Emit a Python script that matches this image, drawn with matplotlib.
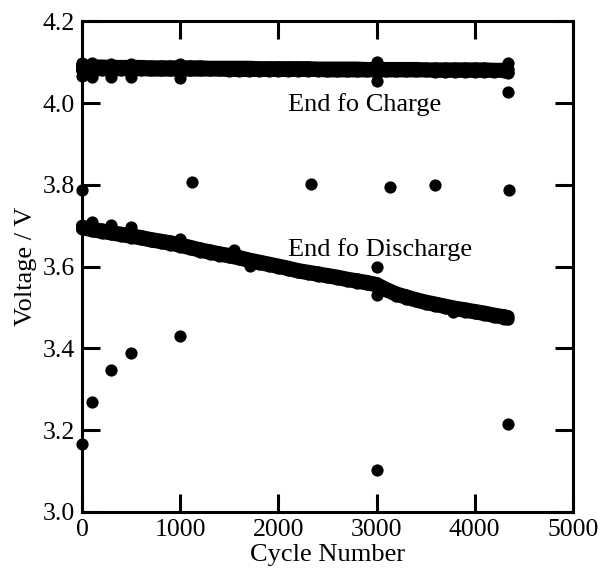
import matplotlib
matplotlib.use("Agg")
import matplotlib.pyplot as plt

# --- dense bands (cycles every 100, plus last cycle) ---
band_cycles = [0, 100, 200, 300, 400, 500, 600, 700, 800, 900,
               1000, 1100, 1200, 1300, 1400, 1500, 1600, 1700, 1800, 1900,
               2000, 2100, 2200, 2300, 2400, 2500, 2600, 2700, 2800, 2900,
               3000, 3100, 3200, 3300, 3400, 3500, 3600, 3700, 3800, 3900,
               4000, 4100, 4200, 4300, 4340]

charge_hi = [4.092, 4.092, 4.092, 4.091, 4.091, 4.091, 4.091, 4.090, 4.090, 4.090,
             4.090, 4.090, 4.090, 4.089, 4.089, 4.089, 4.089, 4.089, 4.088, 4.088,
             4.088, 4.088, 4.088, 4.088, 4.087, 4.087, 4.087, 4.087, 4.087, 4.086,
             4.086, 4.086, 4.086, 4.086, 4.086, 4.085, 4.085, 4.085, 4.085, 4.085,
             4.085, 4.085, 4.084, 4.084, 4.084]
charge_lo = [4.081, 4.081, 4.081, 4.081, 4.081, 4.081, 4.081, 4.080, 4.080, 4.080,
             4.080, 4.080, 4.080, 4.080, 4.080, 4.079, 4.079, 4.079, 4.079, 4.079,
             4.079, 4.079, 4.079, 4.079, 4.079, 4.078, 4.078, 4.078, 4.078, 4.078,
             4.078, 4.078, 4.078, 4.078, 4.078, 4.078, 4.077, 4.077, 4.077, 4.077,
             4.077, 4.077, 4.077, 4.077, 4.077]

discharge_hi = [3.700, 3.695, 3.691, 3.687, 3.683, 3.679, 3.675, 3.670, 3.666, 3.662,
                3.657, 3.651, 3.645, 3.640, 3.635, 3.631, 3.626, 3.620, 3.615, 3.610,
                3.605, 3.600, 3.594, 3.590, 3.586, 3.582, 3.578, 3.573, 3.569, 3.565,
                3.560, 3.548, 3.537, 3.530, 3.523, 3.517, 3.512, 3.507, 3.502, 3.498,
                3.494, 3.490, 3.485, 3.481, 3.479]
discharge_lo = [3.692, 3.687, 3.683, 3.679, 3.675, 3.671, 3.667, 3.662, 3.658, 3.654,
                3.649, 3.643, 3.637, 3.632, 3.627, 3.623, 3.618, 3.612, 3.607, 3.602,
                3.597, 3.592, 3.586, 3.582, 3.578, 3.574, 3.570, 3.565, 3.561, 3.557,
                3.552, 3.540, 3.529, 3.522, 3.515, 3.509, 3.504, 3.499, 3.494, 3.490,
                3.486, 3.482, 3.477, 3.473, 3.471]

# --- individual points off the bands ---
extra_cycles = [0, 0, 100, 100, 300, 300, 500, 500, 1000, 1000,
                3000, 3000, 4340, 4340, 4340,
                0, 1120, 2330, 3140, 3600, 4350,
                0, 100, 300, 500, 1000, 1550, 1710, 2330, 3000, 3000, 3600, 3780,
                0, 100, 300, 500, 1000, 3000, 4340]
extra_volts = [4.098, 4.067, 4.098, 4.065, 4.097, 4.065, 4.097, 4.065, 4.097, 4.061,
               4.100, 4.054, 4.099, 4.073, 4.027,
               3.787, 3.807, 3.803, 3.794, 3.800, 3.788,
               3.698, 3.710, 3.701, 3.698, 3.668, 3.641, 3.601, 3.586, 3.600, 3.531, 3.506, 3.490,
               3.165, 3.268, 3.347, 3.388, 3.430, 3.102, 3.216]

plt.rcParams["font.family"] = ["Liberation Serif", "DejaVu Serif"]

fig = plt.figure(figsize=(6.03, 5.72), dpi=100)
ax = fig.add_axes([0.136, 0.105, 0.814, 0.8575])

# bands: dots so close together they merge into a solid stroke
band = dict(linestyle="-", lw=8.8, marker="o", ms=8.8, mew=0, color="black",
            solid_capstyle="round", solid_joinstyle="round", clip_on=False)
ax.plot(band_cycles, charge_hi, **band)
ax.plot(band_cycles, charge_lo, **band)
ax.plot(band_cycles, discharge_hi, **band)
ax.plot(band_cycles, discharge_lo, **band)

dot = dict(linestyle="none", marker="o", ms=8.8, mew=0, color="black", clip_on=False)
ax.plot(extra_cycles, extra_volts, **dot)

ax.text(2100, 3.981, "End fo Charge", fontsize=19, va="baseline")
ax.text(2100, 3.626, "End fo Discharge", fontsize=19, va="baseline")

ax.set_xlim(0, 5000)
ax.set_ylim(3.0, 4.2)
ax.set_xticks([0, 1000, 2000, 3000, 4000, 5000])
ax.set_yticks([3.0, 3.2, 3.4, 3.6, 3.8, 4.0, 4.2])
ax.set_yticklabels(["3.0", "3.2", "3.4", "3.6", "3.8", "4.0", "4.2"])
ax.tick_params(direction="in", length=13, width=2.2, labelsize=18.5,
               top=True, right=True, pad=5)
for s in ax.spines.values():
    s.set_linewidth(2.2)

ax.set_xlabel("Cycle Number", fontsize=19, labelpad=2)
ax.set_ylabel("Voltage / V", fontsize=19, labelpad=4)

fig.savefig("out.png", dpi=100)
